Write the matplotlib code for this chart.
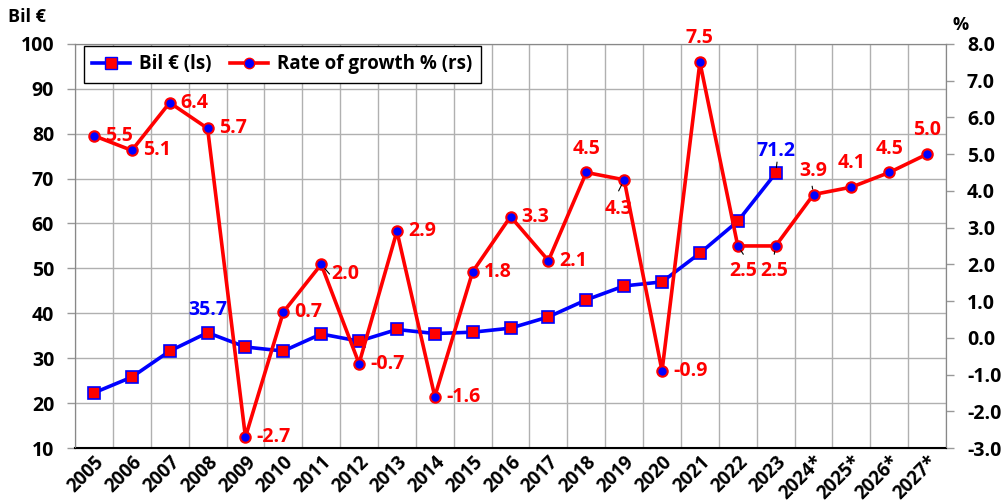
import matplotlib

matplotlib.use("Agg")
import matplotlib.pyplot as plt
from matplotlib.lines import Line2D

plt.rcParams["font.family"] = ["Open Sans", "DejaVu Sans"]
plt.rcParams["font.weight"] = "bold"

years = ["2005", "2006", "2007", "2008", "2009", "2010", "2011", "2012", "2013", "2014",
         "2015", "2016", "2017", "2018", "2019", "2020", "2021", "2022", "2023",
         "2024*", "2025*", "2026*", "2027*"]
bil_eur = [22.3, 25.8, 31.6, 35.7, 32.5, 31.6, 35.4, 33.8, 36.4, 35.5,
           35.8, 36.7, 39.2, 43.0, 46.1, 47.0, 53.4, 60.5, 71.2]
growth = [5.5, 5.1, 6.4, 5.7, -2.7, 0.7, 2.0, -0.7, 2.9, -1.6, 1.8, 3.3, 2.1,
          4.5, 4.3, -0.9, 7.5, 2.5, 2.5, 3.9, 4.1, 4.5, 5.0]
blue_labels = {3: "35.7", 18: "71.2"}

# label offsets in points (dx, dy) for growth labels; default is to the right
growth_offsets = {13: (0, 10), 14: (-4, -14), 16: (0, 10), 17: (4, -11), 18: (-1, -11),
                  19: (0, 10), 20: (0, 10), 21: (0, 10), 22: (0, 10)}

fig = plt.figure(figsize=(10.07, 5.04), dpi=100)
ax = fig.add_axes([0.0745, 0.111, 0.865, 0.802])
ax2 = ax.twinx()

x = list(range(len(years)))
xb = x[:len(bil_eur)]

ax.plot(xb, bil_eur, color="#0000ff", lw=2.6, marker="s", ms=8,
        mfc="#ff0000", mec="#0000ff", mew=1.2, zorder=3)
ax2.plot(x, growth, color="#ff0000", lw=2.6, marker="o", ms=7.5,
         mfc="#0000ff", mec="#ff0000", mew=1.5, zorder=3)

ax.set_xlim(-0.5, len(years) - 0.5)
ax.set_ylim(10, 100)
ax2.set_ylim(-3, 8)
ax.set_yticks(range(10, 101, 10))
ax2.set_yticks(range(-3, 9))
ax2.set_yticklabels([f"{v:.1f}" for v in range(-3, 9)])

ax.set_xticks(x)
ax.set_xticklabels(years, rotation=45, ha="right", rotation_mode="anchor")
ax.set_xticks([i - 0.5 for i in range(len(years) + 1)], minor=True)
ax.tick_params(axis="x", which="major", length=0, pad=3, labelsize=13.5)
ax.tick_params(axis="x", which="minor", length=0)
ax.tick_params(axis="y", length=6, width=1, color="#999999", labelsize=14, pad=9)
ax2.tick_params(axis="y", length=6, width=1, color="#999999", labelsize=14, pad=9)

ax.grid(True, which="minor", axis="x", color="#b0b0b0", lw=1)
ax.grid(True, which="major", axis="y", color="#b0b0b0", lw=1)
ax.set_axisbelow(True)

for spine in ["top", "right", "left"]:
    ax.spines[spine].set_color("#888888")
    ax2.spines[spine].set_color("#888888")
ax.spines["bottom"].set_color("black")
ax2.spines["bottom"].set_color("black")
ax.spines["bottom"].set_linewidth(1.5)

for i, txt in blue_labels.items():
    ax.annotate(txt, (i, bil_eur[i]), xytext=(0, 9), textcoords="offset points",
                ha="center", va="bottom", color="#0000ff", fontsize=14, fontweight="bold")

for i, v in enumerate(growth):
    dx, dy = growth_offsets.get(i, (8, 0))
    if i == 6:
        dx, dy = (7, -7)
    if (dx, dy) == (8, 0) or i == 6:
        ha, va = "left", "center"
    elif dy > 0:
        ha, va = "center", "bottom"
    else:
        ha, va = "center", "top"
    ax2.annotate(f"{v:.1f}", (i, v), xytext=(dx, dy), textcoords="offset points",
                 ha=ha, va=va, color="#ff0000", fontsize=14, fontweight="bold")

# small leader lines
leader_ends = {6: (6, -7), 14: (-4, -8), 17: (4, -6), 18: (-1, -6), 19: (-1, 6)}
for i, (lx, ly) in leader_ends.items():
    ax2.annotate("", (i, growth[i]), xytext=(lx, ly), textcoords="offset points",
                 arrowprops=dict(arrowstyle="-", color="black", lw=0.8, shrinkA=0, shrinkB=4))
ax.annotate("", (18, bil_eur[18]), xytext=(1, 8), textcoords="offset points",
            arrowprops=dict(arrowstyle="-", color="black", lw=0.8, shrinkA=0, shrinkB=4))

handles = [
    Line2D([], [], color="#0000ff", lw=2.6, marker="s", ms=8, mfc="#ff0000", mec="#0000ff"),
    Line2D([], [], color="#ff0000", lw=2.6, marker="o", ms=7.5, mfc="#0000ff", mec="#ff0000"),
]
leg = ax.legend(handles, ["Bil € (ls)", "Rate of growth % (rs)"], loc="upper left",
                bbox_to_anchor=(0.008, 1.0), borderaxespad=0.1, ncol=2, fancybox=False,
                framealpha=1, edgecolor="black", prop={"size": 13.5, "weight": "bold"},
                handlelength=2.0, columnspacing=1.0, handletextpad=0.5, borderpad=0.45)
leg.get_frame().set_linewidth(1)
leg.set_zorder(10)

fig.text(0.008, 0.985, "Bil €", fontsize=13, fontweight="bold", va="top", ha="left")
fig.text(0.946, 0.968, "%", fontsize=13, fontweight="bold", va="top", ha="left")

fig.savefig("out.png", dpi=100)
